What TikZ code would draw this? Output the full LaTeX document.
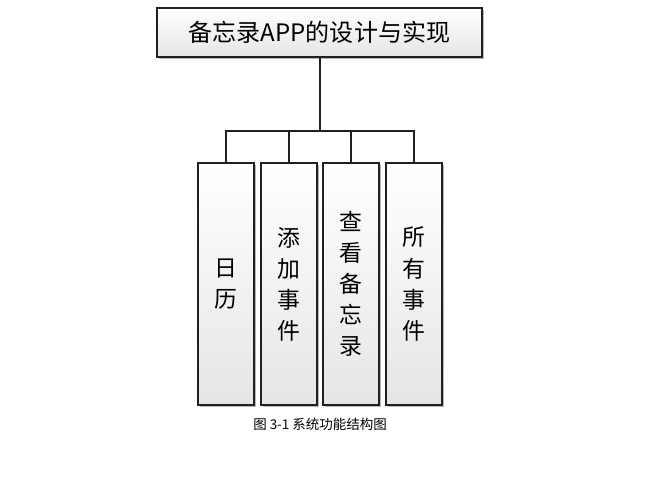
\documentclass[tikz,border=0pt]{standalone}
\usepackage{fontspec}
\newfontfamily\cjk{Noto Sans CJK SC}
\usetikzlibrary{positioning, shadows, calc}
\tikzset{
  box/.style={draw=gray!25!black, line width=0.9pt, top color=white, bottom color=gray!20,
    drop shadow={shadow xshift=2pt, shadow yshift=-2pt, fill=gray!70, opacity=0.8}},
  vbox/.style={box, minimum width=1.68cm, minimum height=7.26cm, inner sep=0pt,
    align=center, font=\cjk\fontsize{19.5}{26.5}\selectfont},
  link/.style={draw=gray!25!black, line width=0.9pt}
}
\begin{document}
\begin{tikzpicture}[x=0.03cm, y=-0.03cm]
\useasboundingbox (0,0) rectangle (671,486);
% top
\node[box, minimum width=9.75cm, minimum height=1.47cm, font=\cjk\fontsize{20.5}{24}\selectfont] (sys) at (319.5,32.5) {备忘录APP的设计与实现};
% modules
\node[vbox] (cal) at (226,284) {日\\历};
\node[vbox] (add) at (289,284) {添\\加\\事\\件};
\node[vbox] (view) at (351,284) {查\\看\\备\\忘\\录};
\node[vbox] (all) at (414,284) {所\\有\\事\\件};
% bus
\coordinate (bus) at (320,131);
\draw[link] (sys.south -| bus) -- (bus);
\draw[link] (bus) -| (cal.north);
\draw[link] (bus) -| (add.north);
\draw[link] (bus) -| (view.north);
\draw[link] (bus) -| (all.north);
% caption
\node[font=\cjk\fontsize{11.5}{14}\selectfont] (caption) at (320,424) {图 3-1 系统功能结构图};
\end{tikzpicture}
\end{document}
